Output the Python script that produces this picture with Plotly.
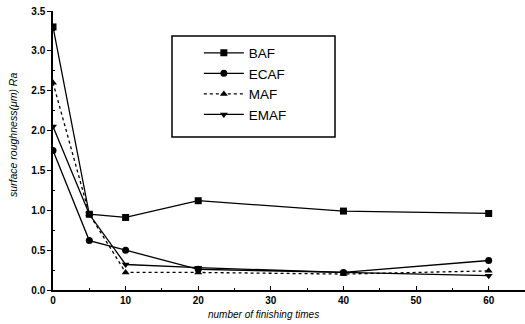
import plotly.graph_objects as go

x_vals = [0, 5, 10, 20, 40, 60]
baf = [3.3, 0.95, 0.91, 1.12, 0.99, 0.96]
ecaf = [1.75, 0.62, 0.50, 0.26, 0.22, 0.37]
maf = [2.6, 0.95, 0.22, 0.22, 0.20, 0.24]
emaf = [2.05, 0.95, 0.32, 0.28, 0.22, 0.18]

series = [
    ("BAF", baf, "square", "solid"),
    ("ECAF", ecaf, "circle", "solid"),
    ("MAF", maf, "triangle-up", "dot"),
    ("EMAF", emaf, "triangle-down", "solid"),
]

fig = go.Figure()
for name, ys, sym, dash in series:
    fig.add_trace(go.Scatter(
        x=x_vals, y=ys, name=name, mode="lines+markers",
        line=dict(color="black", width=1.3, dash=dash),
        marker=dict(symbol=sym, size=7, color="black"),
    ))

font = "Liberation Sans, Arial, sans-serif"
fig.update_layout(
    width=525, height=324,
    margin=dict(l=53, r=0, t=11, b=34),
    paper_bgcolor="white", plot_bgcolor="white",
    showlegend=True,
    legend=dict(x=0.309, y=0.905, xanchor="left", yanchor="top",
                bgcolor="rgba(0,0,0,0)", borderwidth=0,
                font=dict(family=font, size=13.5, color="black"),
                itemwidth=40, tracegroupgap=0),
    font=dict(family=font, color="black"),
)
fig.update_xaxes(
    range=[0, 65], tickvals=[0, 10, 20, 30, 40, 50, 60],
    ticks="inside", ticklen=4, tickwidth=1.2, tickcolor="black",
    minor=dict(tickvals=[5, 15, 25, 35, 45, 55], ticks="inside", ticklen=2, tickcolor="black"),
    showline=True, linecolor="black", linewidth=1.5, showgrid=False, zeroline=False,
    tickfont=dict(family=font, size=10, color="black", weight="bold"),
)
fig.update_yaxes(
    range=[0, 3.5], tickvals=[0, 0.5, 1.0, 1.5, 2.0, 2.5, 3.0, 3.5], tickformat=".1f",
    ticks="outside", ticklen=4, tickwidth=1.2, tickcolor="black",
    minor=dict(tickvals=[0.25, 0.75, 1.25, 1.75, 2.25, 2.75, 3.25], ticks="inside", ticklen=2, tickcolor="black"),
    showline=True, linecolor="black", linewidth=1.5, showgrid=False, zeroline=False,
    tickfont=dict(family=font, size=10, color="black", weight="bold"),
)
fig.add_annotation(text="<i>number of finishing times</i>", xref="paper", yref="paper",
                   x=(263 - 53) / 472, y=-24 / 279, xanchor="center", yanchor="middle",
                   showarrow=False, font=dict(family=font, size=10, color="black"))
fig.add_annotation(text="<i>surface roughness(μm) Ra</i>", xref="paper", yref="paper",
                   x=-40 / 472, y=(290 - 135) / 279, xanchor="center", yanchor="middle", textangle=-90,
                   showarrow=False, font=dict(family=font, size=10.5, color="black"))
fig.add_shape(type="rect", xref="paper", yref="paper",
              x0=(172 - 53) / 472, x1=(335 - 53) / 472,
              y0=(290 - 137) / 279, y1=(290 - 36) / 279,
              line=dict(color="black", width=1.5))
fig.write_html("out.html", config={"displayModeBar": False},
               post_script="document.body.style.margin='0';")
